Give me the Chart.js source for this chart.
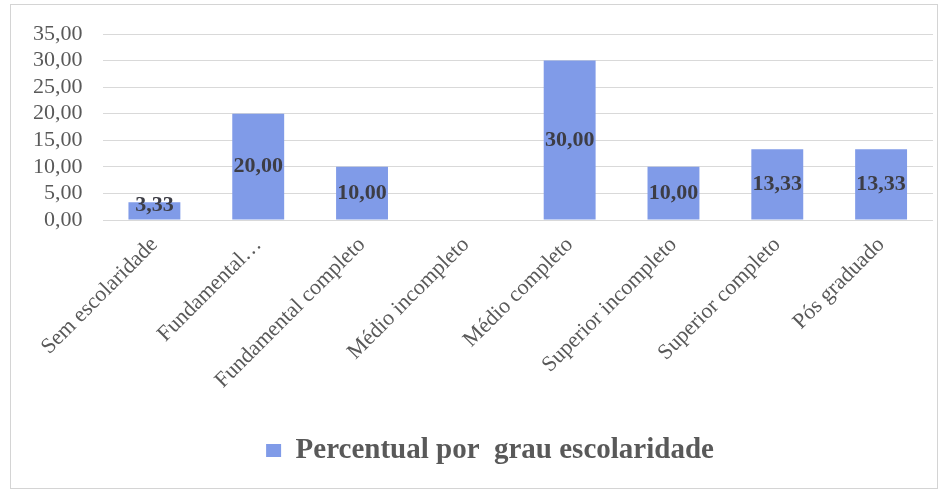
<!DOCTYPE html>
<html>
<head>
<meta charset="utf-8">
<script src="https://cdn.jsdelivr.net/npm/chart.js@4"></script>
<style>
  html, body { margin: 0; padding: 0; background: #fff; }
  #box {
    position: absolute; left: 10px; top: 4px;
    width: 926px; height: 483px;
    border: 1px solid #d4d4d4;
    background: #fff;
  }
  #chart { display: block; }
</style>
</head>
<body>
<div id="box"><canvas id="chart" width="926" height="483"></canvas></div>
<script>
// categories and values (percent)
const categories = [
    'Sem escolaridade',
    'Fundamental…',
    'Fundamental completo',
    'Médio incompleto',
    'Médio completo',
    'Superior incompleto',
    'Superior completo',
    'Pós graduado'
];
const percentual = [3.33, 20.00, 10.00, 0, 30.00, 10.00, 13.33, 13.33];
const seriesName = 'Percentual por  grau escolaridade';

const SERIF = "'Liberation Serif', 'Times New Roman', serif";

const fmt = v => Number(v).toFixed(2).replace('.', ',');

// writes the value in the middle of every bar (kept off the axis for short bars)
const barValues = {
    id: 'barValues',
    afterDatasetsDraw(chart) {
        const ctx = chart.ctx;
        const meta = chart.getDatasetMeta(0);
        ctx.save();
        ctx.font = 'bold 22px ' + SERIF;
        ctx.fillStyle = '#3d3d45';
        ctx.textAlign = 'center';
        ctx.textBaseline = 'middle';
        meta.data.forEach((bar, i) => {
            const v = percentual[i];
            if (!v) return;
            const y = Math.min((bar.y + bar.base) / 2, bar.base - 14);
            ctx.fillText(fmt(v), bar.x, y);
        });
        ctx.restore();
    }
};

// layout tweaks: legend a bit to the right, plot area a bit taller at the top
const PLOT_TOP = 29;
const layoutTweak = {
    id: 'layoutTweak',
    afterLayout(chart) {
        const lg = chart.legend;
        if (lg) {
            lg.left += 17;
            lg.right += 17;
        }
        const y = chart.scales.y;
        const d = y.top - PLOT_TOP;
        if (d > 0) {
            y.top = PLOT_TOP;
            y.height += d;
            y.configure();
            chart.chartArea.top = PLOT_TOP;
            chart.chartArea.height += d;
        }
    }
};

new Chart(document.getElementById('chart'), {
    type: 'bar',
    data: {
        labels: categories,
        datasets: [{
            label: seriesName,
            data: percentual,
            backgroundColor: 'rgb(128,155,232)',
            barPercentage: 0.5,
            categoryPercentage: 1.0
        }]
    },
    options: {
        responsive: false,
        animation: false,
        layout: { padding: { top: 0, left: 2, right: 4, bottom: 13 } },
        scales: {
            x: {
                grid: { display: false },
                border: { display: false },
                ticks: {
                    minRotation: 45,
                    maxRotation: 45,
                    autoSkip: false,
                    padding: 4,
                    color: '#595959',
                    font: { family: SERIF, size: 22 }
                },
                afterFit(scale) { scale.height = 206; }
            },
            y: {
                min: 0,
                max: 35,
                border: { display: false },
                grid: { color: '#d9d9d9', drawTicks: false },
                ticks: {
                    stepSize: 5,
                    autoSkip: false,
                    padding: 20,
                    color: '#595959',
                    font: { family: SERIF, size: 22 },
                    callback: v => fmt(v)
                }
            }
        },
        plugins: {
            tooltip: { enabled: false },
            legend: {
                position: 'bottom',
                labels: {
                    boxWidth: 15,
                    boxHeight: 13,
                    padding: 10,
                    color: '#595959',
                    font: { family: SERIF, size: 29, weight: 'bold' }
                }
            }
        }
    },
    plugins: [barValues, layoutTweak]
});
</script>
</body>
</html>
